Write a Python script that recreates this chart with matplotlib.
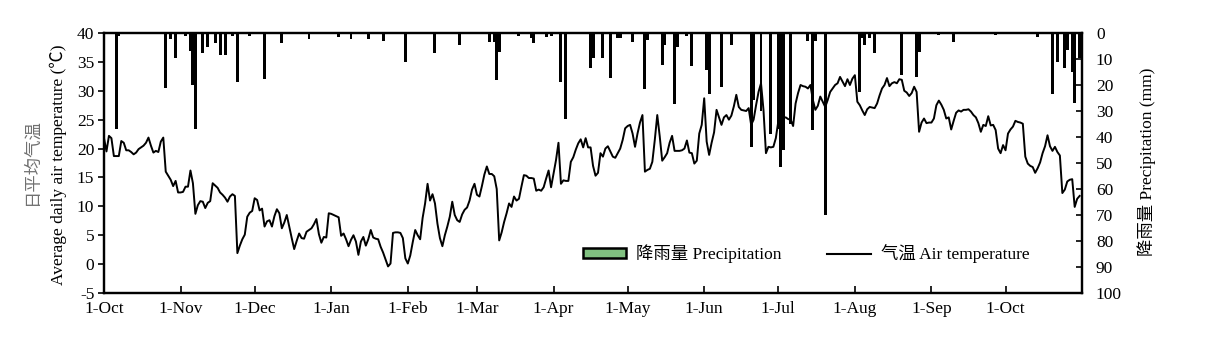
import matplotlib
matplotlib.use("Agg")
import matplotlib.pyplot as plt
import matplotlib.dates as mdates
from matplotlib.patches import Patch
from matplotlib.lines import Line2D
from matplotlib.ticker import FuncFormatter, MultipleLocator
import numpy as np
import pandas as pd

plt.rcParams['font.family'] = ['Liberation Serif', 'Noto Sans CJK SC']
plt.rcParams['font.size'] = 12.5
plt.rcParams['axes.unicode_minus'] = False

# Daily mean air temperature (°C), one list per month
t_oct18 = [21.8, 19.5, 22.2, 21.8, 18.7, 18.7, 18.7, 21.3, 21.0, 19.7, 19.7, 19.4, 19.0, 19.3, 19.9, 20.2,
           20.5, 21.0, 21.9, 20.5, 19.3, 19.6, 19.4, 21.2, 21.9, 16.0, 15.3, 14.6, 13.5, 14.4, 12.4]
t_nov18 = [12.4, 12.5, 13.4, 13.4, 16.2, 14.0, 8.7, 10.2, 10.9, 10.8, 9.7, 10.6, 10.9, 14.0, 13.6, 13.2,
           12.4, 12.0, 11.5, 10.8, 11.7, 12.1, 11.8, 1.9, 3.2, 4.3, 5.1, 8.2, 8.9, 9.2]
t_dec18 = [11.4, 11.1, 9.3, 9.6, 6.5, 7.4, 7.6, 6.5, 8.3, 9.5, 8.8, 6.2, 7.2, 8.5, 6.5, 4.5,
           2.6, 4.0, 5.3, 4.5, 4.4, 5.6, 5.9, 6.2, 6.9, 7.8, 5.2, 3.7, 4.7, 4.6, 8.8]
t_jan19 = [8.7, 8.5, 8.3, 8.1, 4.9, 5.3, 4.3, 3.1, 4.2, 5.0, 3.9, 1.6, 3.9, 4.7, 3.2, 4.3,
           5.9, 4.6, 4.4, 4.3, 3.0, 2.0, 0.8, -0.4, 0.1, 5.4, 5.5, 5.5, 5.4, 4.5, 1.0]
t_feb19 = [0.1, 1.5, 3.8, 5.9, 5.0, 4.3, 8.0, 10.5, 13.9, 11.0, 12.1, 10.5, 7.0, 4.5, 3.1, 5.0,
           6.5, 8.2, 10.8, 8.5, 7.6, 7.3, 8.6, 9.4, 9.8, 11.0, 12.9, 13.9]
t_mar19 = [12.0, 11.7, 13.5, 15.5, 16.9, 15.6, 15.6, 15.2, 13.0, 4.1, 5.5, 7.3, 8.8, 10.5, 9.9, 11.7,
           11.0, 11.3, 13.4, 15.4, 15.3, 14.9, 14.9, 14.8, 12.7, 12.9, 12.7, 13.3, 14.8, 16.2, 13.3]
t_apr19 = [15.7, 18.0, 21.0, 13.9, 14.5, 14.4, 14.4, 17.7, 18.5, 19.8, 20.9, 21.6, 20.2, 21.8, 20.2,
           20.2, 17.0, 15.3, 15.8, 19.2, 18.6, 20.0, 20.4, 19.5, 18.6, 18.4, 19.2, 20.0, 21.5, 23.5]
t_may19 = [23.9, 24.1, 22.6, 20.3, 22.6, 24.5, 25.8, 16.0, 16.3, 16.5, 17.7, 21.5, 25.8, 22.1, 17.9, 18.5,
           19.2, 21.0, 22.2, 19.6, 19.6, 19.6, 19.7, 20.0, 21.4, 19.3, 19.2, 17.4, 17.9, 22.6, 24.1]
t_jun19 = [28.7, 21.2, 18.9, 21.0, 22.8, 26.7, 25.4, 24.1, 25.4, 25.8, 25.0, 25.7, 27.3, 29.3, 27.2,
           26.7, 26.6, 26.5, 27.0, 24.1, 25.0, 27.5, 29.8, 31.3, 26.7, 19.2, 20.3, 20.2, 20.3, 21.8]
t_jul19 = [24.7, 25.5, 25.3, 25.4, 25.1, 25.0, 23.9, 27.8, 29.6, 31.0, 30.8, 30.7, 30.4, 31.0, 28.4, 26.7,
           27.4, 29.0, 28.1, 27.2, 28.4, 29.8, 30.4, 31.0, 31.3, 32.4, 31.6, 30.8, 32.0, 31.0, 32.1]
t_aug19 = [32.7, 28.1, 27.5, 26.6, 25.8, 26.8, 27.2, 27.1, 27.0, 27.8, 29.2, 30.4, 31.0, 32.2, 30.8, 31.3,
           31.5, 31.3, 32.0, 31.9, 30.0, 29.7, 29.1, 29.6, 30.7, 29.8, 22.9, 24.5, 25.2, 24.4, 24.5]
t_sep19 = [24.5, 25.2, 27.5, 28.3, 27.6, 26.7, 25.2, 25.4, 23.3, 24.8, 26.2, 26.6, 26.4, 26.7, 26.7,
           26.8, 26.4, 25.8, 25.4, 24.4, 22.9, 24.1, 23.9, 25.6, 24.0, 24.1, 23.2, 20.0, 19.2, 20.6]
t_oct19 = [19.7, 22.6, 23.3, 23.8, 24.8, 24.6, 24.5, 24.3, 18.6, 17.4, 17.0, 16.8, 15.8, 16.6, 17.6, 19.2,
           20.4, 22.3, 20.4, 19.6, 20.3, 19.4, 18.8, 12.3, 12.9, 14.3, 14.6, 14.7, 9.9, 11.3, 11.8]

# Daily precipitation (mm) on rainy days
rain_dates = ['2018-10-06', '2018-10-07', '2018-10-26', '2018-10-28', '2018-10-30',
              '2018-11-03', '2018-11-05', '2018-11-06', '2018-11-07', '2018-11-10', '2018-11-12',
              '2018-11-15', '2018-11-17', '2018-11-19', '2018-11-22', '2018-11-24', '2018-11-29',
              '2018-12-05', '2018-12-12', '2018-12-23',
              '2019-01-04', '2019-01-09', '2019-01-16', '2019-01-22', '2019-01-31',
              '2019-02-12', '2019-02-22',
              '2019-03-06', '2019-03-08', '2019-03-09', '2019-03-10', '2019-03-18', '2019-03-23',
              '2019-03-24', '2019-03-29', '2019-03-31',
              '2019-04-04', '2019-04-06', '2019-04-16', '2019-04-17', '2019-04-21', '2019-04-24',
              '2019-04-27', '2019-04-28',
              '2019-05-03', '2019-05-08', '2019-05-09', '2019-05-15', '2019-05-16', '2019-05-20',
              '2019-05-21', '2019-05-25', '2019-05-27',
              '2019-06-02', '2019-06-03', '2019-06-08', '2019-06-12', '2019-06-20', '2019-06-21',
              '2019-06-24', '2019-06-28',
              '2019-07-01', '2019-07-02', '2019-07-03', '2019-07-06', '2019-07-13', '2019-07-15',
              '2019-07-16', '2019-07-20',
              '2019-08-03', '2019-08-04', '2019-08-05', '2019-08-07', '2019-08-09', '2019-08-20',
              '2019-08-26', '2019-08-27',
              '2019-09-04', '2019-09-10', '2019-09-27', '2019-09-29',
              '2019-10-02', '2019-10-14', '2019-10-20', '2019-10-22', '2019-10-25', '2019-10-26',
              '2019-10-28', '2019-10-29', '2019-10-31']
rain_mm = [37.0, 1.0, 21.0, 2.5, 9.7,
           1.0, 7.0, 20.0, 37.0, 7.6, 5.5,
           3.7, 8.5, 8.5, 1.0, 19.0, 1.0,
           17.8, 3.7, 2.4,
           1.4, 2.4, 2.4, 3.0, 11.0,
           7.6, 4.6,
           3.6, 3.3, 18.0, 7.2, 1.0, 2.0,
           3.7, 1.4, 1.0,
           19.0, 33.0, 13.6, 9.7, 9.7, 17.4,
           2.0, 2.0,
           3.5, 21.7, 2.7, 12.3, 4.6, 27.3,
           5.3, 1.0, 12.7,
           14.2, 23.5, 20.9, 4.6, 44.0, 25.8,
           30.0, 39.0,
           37.0, 51.4, 45.0, 35.0, 3.0, 37.5,
           3.0, 70.0,
           22.6, 2.0, 4.6, 2.0, 7.8, 16.2,
           16.8, 7.2,
           0.8, 3.3, 0.8, 0.5,
           0.5, 1.4, 23.6, 11.0, 13.6, 6.5,
           14.9, 27.0, 9.7]

temperature = np.concatenate([t_oct18, t_nov18, t_dec18, t_jan19, t_feb19, t_mar19, t_apr19,
                              t_may19, t_jun19, t_jul19, t_aug19, t_sep19, t_oct19])
days = pd.date_range('2018-10-01', periods=len(temperature), freq='D')
rain_days = pd.to_datetime(rain_dates)

fig = plt.figure(figsize=(12.05, 3.43), dpi=100)
ax = fig.add_axes([104 / 1205, 1 - 293 / 343, 978 / 1205, 260 / 343])
ax2 = ax.twinx()

# temperature line on the left axis
ax.plot(days, temperature, color='black', lw=1.4, zorder=3)
ax.set_ylim(-5, 40)
ax.yaxis.set_major_locator(MultipleLocator(5))
ax.set_xlim(pd.Timestamp('2018-10-01'), pd.Timestamp('2019-10-31 23:00'))
ax.xaxis.set_major_locator(mdates.MonthLocator())
ax.xaxis.set_major_formatter(FuncFormatter(
    lambda v, p: f"{mdates.num2date(v).day}-{mdates.num2date(v):%b}"))

# precipitation bars hanging from the top on the inverted right axis
ax2.bar(rain_days, rain_mm, width=1.2, color='black', align='center', zorder=2)
ax2.set_ylim(100, 0)
ax2.yaxis.set_major_locator(MultipleLocator(10))

for a in (ax, ax2):
    for s in a.spines.values():
        s.set_linewidth(1.6)
ax.tick_params(axis='y', direction='out', length=4, width=1.2, pad=3)
ax.tick_params(axis='x', direction='in', length=5, width=1.2, pad=6)
ax2.tick_params(axis='y', direction='in', length=4, width=1.2, pad=10)

# axis titles
fig.text(58 / 1205, 1 - 165 / 343, 'Average daily air temperature (℃)', rotation=90,
         ha='center', va='center', fontsize=12.5)
fig.text(33 / 1205, 1 - 162 / 343, '日平均气温', rotation=90, ha='center', va='center',
         fontsize=12.5, color='#707070')
fig.text(1147 / 1205, 1 - 162 / 343, '降雨量 Precipitation (mm)', rotation=90,
         ha='center', va='center', fontsize=12.5)

handles = [Patch(facecolor='#80c080', edgecolor='black', linewidth=1.8),
           Line2D([0], [0], color='black', lw=1.5)]
labels = ['降雨量 Precipitation', '气温 Air temperature']
ax.legend(handles, labels, ncol=2, frameon=False, loc='center left',
          bbox_to_anchor=((574 - 104) / 978, (293 - 254) / 260), borderpad=0,
          handlelength=2.5, handleheight=0.5, handletextpad=0.6, columnspacing=2.6,
          fontsize=12.5)

fig.savefig('out.png', dpi=100)
